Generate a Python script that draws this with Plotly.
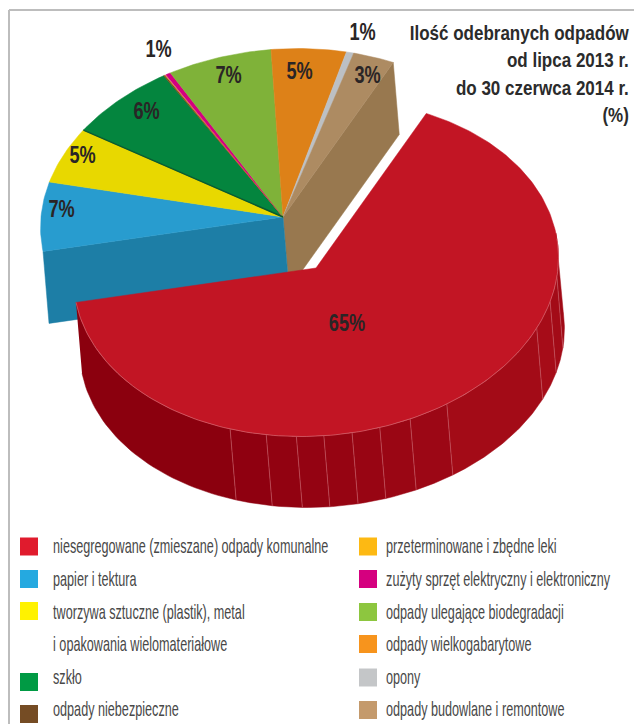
import numpy as np
import plotly.graph_objects as go

# ---------- data ----------
categories_left = ["niesegregowane (zmieszane) odpady komunalne", "papier i tektura",
                   "tworzywa sztuczne (plastik), metal", "i opakowania wielomateriałowe", "szkło",
                   "odpady niebezpieczne"]
categories_right = ["przeterminowane i zbędne leki", "zużyty sprzęt elektryczny i elektroniczny",
                    "odpady ulegające biodegradacji", "odpady wielkogabarytowe", "opony",
                    "odpady budowlane i remontowe"]
values = [65.2, 6.6, 5.3, 7.2, 0.1, 0.05, 0.35, 6.9, 5.0, 0.5, 2.8]
value_labels = ["65%", "7%", "5%", "6%", "1%", "7%", "5%", "1%", "3%"]
title_lines = ["Ilość odebranych odpadów", "od lipca 2013 r.", "do 30 czerwca 2014 r.", "(%)"]
wall_seams = [-107.2, -98.3, -91.1, -84.6, -77.9, -71.2, -63.6, -53.8, -20.9, -11.5, -3]

# ---------- styles / layout ----------
face_colors = ["#c21524", "#289ccf", "#e8d800", "#04853e", "#7a4a20", "#e0a81c",
               "#d4007f", "#7fb239", "#dd8118", "#bcc0c4", "#ad8b62"]
swatch_colors = ["#e01b2d", "#25a9e0", "#fff200", "#009a44", "#754c24", "#fdb913",
                 "#d5007f", "#8dc63f", "#f7941d", "#c4c6c8", "#c49a6c"]
wall_colors = ["#8b000e", "#8f0010", "#920211", "#940312", "#960412", "#980513", "#9a0614",
               "#9c0715", "#a30b17", "#a60c18", "#a30b17", "#a00a16"]
FONT = "Liberation Sans, sans-serif"
START, A, B, S = 66.5, 242.0, 168.5, 15.0
BACK = (283.0, 217.0)
FRONT = (316.0, 268.0)
DX, DY = 6.0, 72.0
CUT_LEFT, CUT_RIGHT = "#1d7ea6", "#98784f"
value_label_pos = [(347, 323), (61, 209), (82, 155), (146, 111), (158, 49),
                   (228, 75), (299, 71), (362, 32), (367, 75)]
text_rows_left = [546, 579, 612, 644, 677, 709]
text_rows_right = [546, 579, 612, 644, 677, 709]
swatch_left = [546.5, 579, 611, 682, 714]
swatch_right = [546.5, 579, 612, 644, 677.5, 710]


def rim(theta_deg, c):
    t = np.radians(theta_deg)
    return c[0] + A * np.cos(t) + S * np.sin(t), c[1] - B * np.sin(t)


edges = START - 3.6 * np.concatenate([[0], np.cumsum(values)])
fig = go.Figure()


def poly(x, y, color):
    fig.add_trace(go.Scatter(x=list(x), y=list(y), mode="lines", fill="toself", fillcolor=color,
                             line=dict(color=color, width=0.5), hoverinfo="skip", showlegend=False))


# cut faces of the back part of the pie
for edge, colr in [(edges[-1], CUT_RIGHT), (edges[1], CUT_LEFT)]:
    rx, ry = rim(edge, BACK)
    poly([BACK[0], rx, rx + DX, BACK[0] + DX, BACK[0]],
         [BACK[1], ry, ry + DY, BACK[1] + DY, BACK[1]], colr)

# top faces of the back slices
for i in range(1, len(values)):
    t = np.linspace(edges[i], edges[i + 1], max(3, int(abs(edges[i] - edges[i + 1])) + 2))
    rx, ry = rim(t, BACK)
    poly(np.r_[BACK[0], rx, BACK[0]], np.r_[BACK[1], ry, BACK[1]], face_colors[i])

# dark lower edge of the green slice
gx, gy = rim(edges[3], BACK)
fig.add_trace(go.Scatter(x=[BACK[0], gx], y=[BACK[1], gy], mode="lines",
                         line=dict(color="#0a5a30", width=1.4), hoverinfo="skip", showlegend=False))

# outer wall of the exploded slice
wall_edges = [edges[1]] + wall_seams + [12.0]
for j in range(len(wall_edges) - 1):
    t = np.linspace(wall_edges[j], wall_edges[j + 1], 40)
    rx, ry = rim(t, FRONT)
    poly(np.r_[rx, rx[::-1] + DX], np.r_[ry, ry[::-1] + DY - 1], wall_colors[j])

# seams on the wall
for s in wall_seams:
    rx, ry = rim(s, FRONT)
    fig.add_trace(go.Scatter(x=[rx, rx + DX], y=[ry, ry + DY - 1], mode="lines",
                             line=dict(color="#c9626b", width=0.6), hoverinfo="skip", showlegend=False))

# top face of the exploded slice
t = np.linspace(edges[0], edges[1], 240)
rx, ry = rim(t, FRONT)
poly(np.r_[FRONT[0], rx, FRONT[0]], np.r_[FRONT[1], ry, FRONT[1]], face_colors[0])
t2 = np.linspace(edges[1], 10, 160)
rx, ry = rim(t2, FRONT)
fig.add_trace(go.Scatter(x=rx, y=ry, mode="lines", line=dict(color="#d9737c", width=0.6),
                         hoverinfo="skip", showlegend=False))

# legend swatches
fig.add_trace(go.Scatter(x=[29] * 5 + [368] * 6, y=swatch_left + swatch_right, mode="markers",
                         marker=dict(symbol="square", size=18, line=dict(width=0), color=swatch_colors),
                         hoverinfo="skip", showlegend=False))

anns = []
for lab, (x, y) in zip(value_labels, value_label_pos):
    anns.append(dict(x=x, y=y, text="<b>" + lab + "</b>", showarrow=False, xanchor="center", yanchor="middle",
                     font=dict(family=FONT, size=23, color="#2a2526")))
anns.append(dict(x=631, y=73, text="<b>" + "<br>".join(title_lines) + "</b>", showarrow=False,
                 xanchor="right", yanchor="middle", align="right",
                 font=dict(family=FONT, size=21, color="#2b2b2b")))
for name, y in zip(categories_left, text_rows_left):
    anns.append(dict(x=50.5, y=y, text=name, showarrow=False, xanchor="left", yanchor="middle",
                     font=dict(family=FONT, size=20, color="#484848")))
for name, y in zip(categories_right, text_rows_right):
    anns.append(dict(x=383.5, y=y, text=name, showarrow=False, xanchor="left", yanchor="middle",
                     font=dict(family=FONT, size=20, color="#484848")))

frame = [dict(type="line", x0=9, x1=634, y0=10, y1=10, line=dict(color="#bdbdbd", width=2), layer="below"),
         dict(type="line", x0=9, x1=9, y0=10, y1=724, line=dict(color="#bdbdbd", width=2), layer="below")]

fig.update_layout(width=634, height=724, margin=dict(l=0, r=0, t=0, b=0), autosize=False,
                  paper_bgcolor="white", plot_bgcolor="white", showlegend=False,
                  xaxis=dict(range=[0, 634], visible=False, fixedrange=True),
                  yaxis=dict(range=[724, 0], visible=False, fixedrange=True),
                  annotations=anns, shapes=frame)

# no condensed face is installed: narrow the real text horizontally about its anchor
narrow = """
document.body.style.margin='0';
var gd=document.getElementById('{plot_id}');
gd.querySelectorAll('.annotation').forEach(function(a){
  var i=+a.getAttribute('data-index'), an=gd.layout.annotations[i];
  var k=an.xanchor==='left'?0.632:(an.xanchor==='right'?0.81:0.79);
  var t=a.querySelector('text'); var b=t.getBBox();
  var p=an.xanchor==='left'?b.x:(an.xanchor==='right'?b.x+b.width:b.x+b.width/2);
  t.setAttribute('transform','translate('+p+',0) scale('+k+',1) translate('+(-p)+',0)');
});
"""
fig.write_html("out.html", config=dict(displayModeBar=False), post_script=narrow)
